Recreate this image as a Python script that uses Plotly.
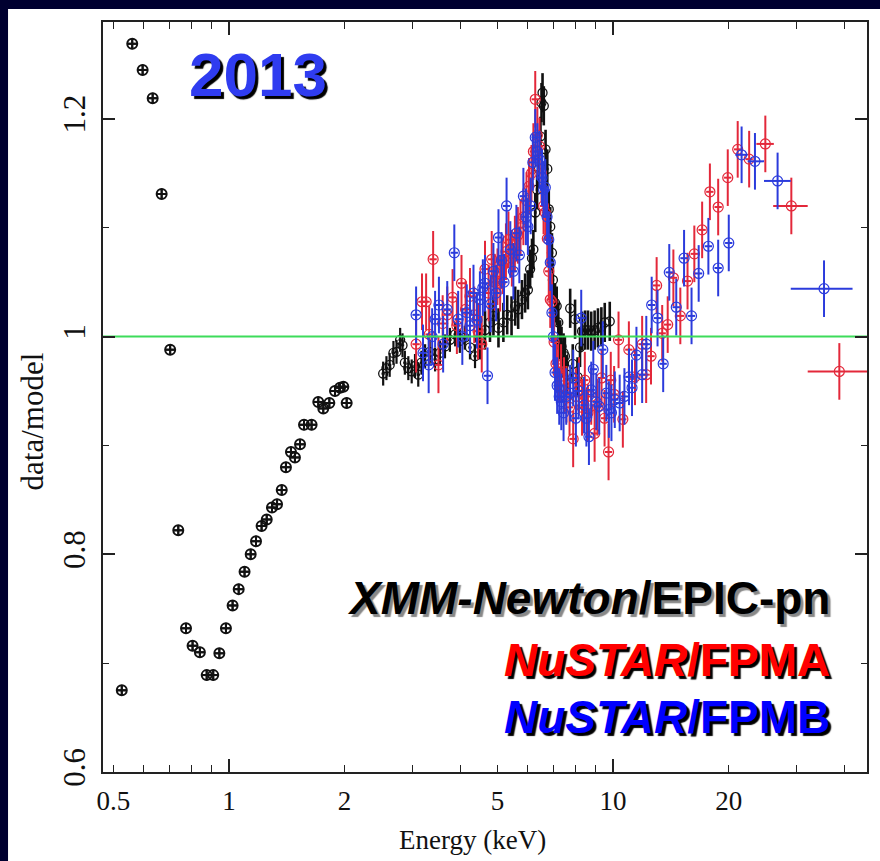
import math
import plotly.graph_objects as go

# ---------------- data ----------------
# XMM-Newton / EPIC-pn, soft band (keV, data/model)
xmm_soft_e = [0.526, 0.560, 0.596, 0.633, 0.668, 0.703, 0.738, 0.773, 0.804, 0.840,
              0.875, 0.910, 0.944, 0.982, 1.022, 1.060, 1.098, 1.139, 1.176, 1.216,
              1.254, 1.294, 1.334, 1.372, 1.407, 1.450, 1.485, 1.531, 1.568, 1.641,
              1.708, 1.760, 1.825, 1.888, 1.946, 1.985, 2.025]
xmm_soft_r = [0.675, 1.269, 1.245, 1.219, 1.131, 0.988, 0.822, 0.732, 0.716, 0.710,
              0.689, 0.689, 0.709, 0.732, 0.753, 0.768, 0.784, 0.800, 0.812, 0.826,
              0.832, 0.843, 0.846, 0.859, 0.880, 0.894, 0.889, 0.901, 0.919, 0.919,
              0.940, 0.934, 0.939, 0.950, 0.953, 0.954, 0.939]
xmm_soft_err = 0.005

# XMM-Newton / EPIC-pn, 2.5-4.5 keV
xmm_mid_e = [2.52, 2.57, 2.62, 2.68, 2.73, 2.79, 2.83, 2.87, 2.93, 2.99, 3.05, 3.11,
             3.17, 3.24, 3.33, 3.44, 3.54, 3.65, 3.76, 3.88, 3.99, 4.11, 4.24, 4.37]
xmm_mid_r = [0.966, 0.971, 0.974, 0.985, 0.986, 0.997, 0.992, 0.976, 0.971, 0.968, 0.973, 0.965,
             0.976, 0.982, 0.986, 0.979, 0.985, 0.991, 0.997, 1.002, 0.996, 0.999, 0.990, 0.982]
xmm_mid_err = 0.011

# XMM-Newton / EPIC-pn, 4.5-10 keV
xmm_hard_e = [4.50, 4.64, 4.78, 4.88, 5.03, 5.18, 5.30, 5.44, 5.56, 5.66, 5.79, 5.90,
              6.00, 6.08, 6.15, 6.20, 6.27, 6.34, 6.41, 6.47, 6.51, 6.55, 6.60, 6.67,
              6.74, 6.80, 6.86, 6.93, 6.97, 7.06, 7.13, 7.20, 7.28, 7.34, 7.43, 7.49,
              7.58, 7.73, 7.85, 7.96, 8.08, 8.20, 8.30, 8.45, 8.60, 8.77, 8.95, 9.13,
              9.32, 9.51, 9.80]
xmm_hard_r = [0.997, 1.006, 1.013, 1.019, 1.008, 1.013, 1.020, 1.019, 1.028, 1.025, 1.034, 1.040,
              1.043, 1.062, 1.072, 1.080, 1.114, 1.135, 1.154, 1.184, 1.215, 1.224, 1.212, 1.172,
              1.154, 1.117, 1.101, 1.077, 1.052, 1.031, 1.028, 1.013, 0.997, 0.991, 0.985, 0.982,
              0.965, 1.026, 0.975, 1.016, 0.963, 0.990, 1.005, 1.006, 1.006, 1.005, 1.006, 1.008,
              1.009, 1.013, 1.014]
xmm_hard_err = 0.018

# NuSTAR / FPMA
fpma_e = [3.07, 3.18, 3.26, 3.32, 3.40, 3.51, 3.60, 3.70, 3.82, 3.92, 4.03, 4.13,
          4.24, 4.35, 4.45, 4.55, 4.64, 4.74, 4.83, 4.92, 5.00, 5.08, 5.16, 5.26,
          5.34, 5.45, 5.55, 5.65, 5.74, 5.84, 5.95, 6.04, 6.13, 6.20, 6.27, 6.35,
          6.43, 6.51, 6.59, 6.66, 6.74, 6.80, 6.86, 6.93, 7.02, 7.10, 7.19, 7.32,
          7.45, 7.56, 7.70, 7.87, 8.00, 8.15, 8.30, 8.44, 8.60, 8.77, 8.95, 9.10,
          9.33, 9.50, 9.73, 9.86, 10.06, 10.33, 10.60, 10.99, 11.4, 11.9, 12.19, 12.55,
          12.98, 13.42, 13.87, 14.35, 14.96, 15.62, 16.27, 17.05, 17.86, 18.77, 19.88, 21.1,
          22.6]
fpma_r = [0.993, 1.032, 1.032, 1.002, 1.071, 0.974, 1.012, 1.020, 1.036, 1.010, 1.049, 1.025,
          1.037, 1.020, 1.005, 0.993, 1.062, 1.040, 1.071, 1.050, 1.055, 1.049, 1.065, 1.078,
          1.089, 1.072, 1.085, 1.093, 1.100, 1.110, 1.125, 1.138, 1.150, 1.170, 1.218, 1.185,
          1.175, 1.150, 1.120, 1.114, 1.090, 1.060, 1.034, 1.032, 0.995, 0.975, 0.967, 0.967,
          0.955, 0.947, 0.935, 0.906, 0.945, 0.955, 0.935, 0.960, 0.930, 0.945, 0.911, 0.935,
          0.962, 0.925, 0.894, 0.960, 0.947, 0.997, 0.924, 0.988, 0.963, 0.993, 0.965, 0.982,
          1.047, 1.003, 1.011, 1.054, 1.019, 1.051, 1.076, 1.098, 1.133, 1.119, 1.146, 1.172,
          1.163]
# FPMA wide high-energy bins: centre, lower edge, upper edge
fpma_wide_e = [24.9, 29.1, 38.8]
fpma_wide_lo = [23.6, 26.1, 32.1]
fpma_wide_hi = [26.2, 32.1, 47.0]
fpma_wide_r = [1.177, 1.120, 0.968]

# NuSTAR / FPMB
fpmb_e = [3.07, 3.20, 3.31, 3.38, 3.44, 3.52, 3.61, 3.70, 3.86, 3.95, 4.05, 4.16,
          4.24, 4.33, 4.42, 4.50, 4.58, 4.64, 4.71, 4.80, 4.88, 4.96, 5.03, 5.12,
          5.20, 5.28, 5.40, 5.50, 5.60, 5.70, 5.84, 5.93, 6.00, 6.10, 6.18, 6.27,
          6.35, 6.43, 6.53, 6.59, 6.66, 6.73, 6.80, 6.86, 6.93, 6.99, 7.06, 7.15,
          7.24, 7.33, 7.43, 7.55, 7.73, 7.87, 8.00, 8.13, 8.26, 8.40, 8.52, 8.65,
          8.77, 8.88, 9.04, 9.20, 9.40, 9.60, 9.75, 9.90, 10.1, 10.4, 10.7, 11.0,
          11.2, 11.5, 11.9, 12.2, 12.6, 13.05, 13.5, 14.0, 14.6, 15.3, 16.0, 16.7,
          17.7, 18.77, 20.0]
fpmb_r = [1.020, 0.985, 0.974, 1.000, 1.016, 1.029, 0.993, 1.025, 1.077, 1.016, 1.000, 1.022,
          1.010, 1.040, 1.015, 1.034, 1.045, 1.049, 0.964, 1.030, 1.060, 1.040, 1.091, 1.070,
          1.050, 1.120, 1.080, 1.060, 1.095, 1.075, 1.129, 1.110, 1.101, 1.120, 1.160, 1.183,
          1.170, 1.163, 1.146, 1.135, 1.137, 1.110, 1.089, 1.068, 1.022, 1.000, 0.967, 0.955,
          0.945, 0.940, 0.930, 0.945, 0.948, 0.962, 0.925, 0.950, 1.017, 0.937, 0.925, 0.908,
          0.951, 0.970, 0.940, 0.936, 0.988, 0.948, 0.933, 0.930, 0.942, 0.939, 0.945, 0.963,
          0.953, 0.983, 0.965, 0.993, 1.029, 1.017, 0.975, 1.059, 1.027, 1.072, 1.019, 1.058,
          1.083, 1.063, 1.086]
fpmb_wide_e = [21.6, 23.4, 26.8, 35.4]
fpmb_wide_lo = [20.8, 22.4, 24.7, 29.0]
fpmb_wide_hi = [22.4, 24.7, 29.0, 42.0]
fpmb_wide_r = [1.167, 1.161, 1.143, 1.044]

nustar_err = 0.026

model_level = 1.0
x_range = [0.47, 45.8]
y_range = [0.6, 1.289]
x_major = [1, 10]
x_minor = [0.5, 0.6, 0.7, 0.8, 0.9, 2, 3, 4, 5, 6, 7, 8, 9, 20, 30, 40]
x_labels = [0.5, 1, 2, 5, 10, 20]
x_label_text = ["0.5", "1", "2", "5", "10", "20"]

RED = "#e3283a"
BLUE = "#2b3bdc"
BLACK = "#111111"

# ---------------- figure ----------------
fig = go.Figure()


def add_points(x, y, yerr, color, xpct, size, lw, ebw, symbol="circle-open"):
    fig.add_trace(go.Scatter(
        x=x, y=y, mode="markers", showlegend=False,
        marker=dict(symbol=symbol, size=size, color=color,
                    line=dict(color=color, width=lw)),
        error_y=dict(type="constant", value=yerr, color=color, thickness=ebw, width=0),
        error_x=dict(type="percent", value=xpct, color=color, thickness=ebw, width=0),
    ))


def add_wide(x, lo, hi, y, yerr, color, size, lw, ebw):
    fig.add_trace(go.Scatter(
        x=x, y=y, mode="markers", showlegend=False,
        marker=dict(symbol="circle-open", size=size, color=color,
                    line=dict(color=color, width=lw)),
        error_y=dict(type="constant", value=yerr, color=color, thickness=ebw, width=0),
        error_x=dict(type="data", symmetric=False,
                     array=[h - c for h, c in zip(hi, x)],
                     arrayminus=[c - l for c, l in zip(x, lo)],
                     color=color, thickness=ebw, width=0),
    ))


# model reference line (data/model = 1), drawn on the label axis x2
fig.add_trace(go.Scatter(x=x_range, y=[model_level, model_level], mode="lines",
                         xaxis="x2", yaxis="y", showlegend=False, hoverinfo="skip",
                         line=dict(color="#3ddc5a", width=2)))

# XMM (black)
add_points(xmm_soft_e, xmm_soft_r, xmm_soft_err, BLACK, 2.6, 10, 2, 2, "circle-cross-open")
add_points(xmm_mid_e, xmm_mid_r, xmm_mid_err, BLACK, 1.0, 9, 1.3, 2.2)
add_points(xmm_hard_e, xmm_hard_r, xmm_hard_err, BLACK, 0.8, 9, 1.3, 2.6)
# NuSTAR FPMA (red) and FPMB (blue)
add_points(fpma_e, fpma_r, nustar_err, RED, 2.2, 10, 1.2, 2)
add_wide(fpma_wide_e, fpma_wide_lo, fpma_wide_hi, fpma_wide_r, nustar_err, RED, 10, 1.2, 2)
add_points(fpmb_e, fpmb_r, nustar_err, BLUE, 2.2, 10, 1.2, 2)
add_wide(fpmb_wide_e, fpmb_wide_lo, fpmb_wide_hi, fpmb_wide_r, nustar_err, BLUE, 10, 1.2, 2)

# white slide panel on navy background
fig.add_shape(type="rect", xref="paper", yref="paper", x0=-0.1243, x1=1.05,
              y0=-0.2, y1=1.0173, fillcolor="white", line_width=0, layer="below")

tick_font = dict(family="Liberation Serif, Times New Roman, serif", size=27, color="#111")
ytick_font = dict(family="Liberation Serif, Times New Roman, serif", size=31, color="#111")

log_range = [math.log10(v) for v in x_range]

fig.update_layout(
    width=880, height=861, autosize=False,
    margin=dict(l=103, r=13, t=22, b=89),
    paper_bgcolor="#000030",
    plot_bgcolor="white",
    xaxis=dict(
        type="log", range=log_range,
        tickvals=x_major, ticks="inside", ticklen=13, tickwidth=1.5, tickcolor="#222",
        showticklabels=False, showgrid=False, zeroline=False,
        showline=True, linecolor="#222", linewidth=1.5, mirror="ticks",
        minor=dict(tickvals=x_minor, ticks="inside", ticklen=7, tickwidth=1.2,
                   tickcolor="#222", showgrid=False),
    ),
    xaxis2=dict(
        type="log", range=log_range,
        overlaying="x", anchor="y", side="bottom",
        tickvals=x_labels, ticktext=x_label_text, ticks="", showline=False,
        showgrid=False, zeroline=False, tickfont=tick_font, ticklabelstandoff=10,
    ),
    yaxis=dict(
        range=y_range, tick0=0.6, dtick=0.2, ticks="inside", ticklen=12, tickwidth=1.5,
        tickcolor="#222", tickfont=ytick_font, tickangle=-90, showgrid=False,
        zeroline=False, showline=True, linecolor="#222", linewidth=1.5, mirror="ticks",
        ticklabelstandoff=4,
        minor=dict(dtick=0.1, ticks="inside", ticklen=6, tickwidth=1.2,
                   tickcolor="#222", showgrid=False),
    ),
)

# axis titles
fig.add_annotation(text="Energy (keV)", xref="paper", yref="paper",
                   x=0.484, y=-0.0907, xanchor="center", yanchor="middle",
                   showarrow=False,
                   font=dict(family="Liberation Serif, Times New Roman, serif", size=27,
                             color="#111"))
fig.add_annotation(text="data/model", xref="paper", yref="paper",
                   x=-0.092, y=0.467, xanchor="center", yanchor="middle",
                   textangle=-90, showarrow=False,
                   font=dict(family="Liberation Serif, Times New Roman, serif", size=31,
                             color="#111"))

# year label
fig.add_annotation(text="<b>2013</b>", xref="paper", yref="paper",
                   x=0.203, y=0.93, xanchor="center", yanchor="middle", showarrow=False,
                   font=dict(family="Liberation Sans, Arial, sans-serif", size=62,
                             color="#2f3cf0", shadow="3px 3px 1px #000"))

# instrument legend text
legend_font = "Liberation Sans, Arial, sans-serif"
fig.add_annotation(text="<b><i>XMM-Newton</i>/EPIC-pn</b>", xref="paper", yref="paper",
                   x=0.954, y=0.232, xanchor="right", yanchor="middle", showarrow=False,
                   font=dict(family=legend_font, size=46, color="#000",
                             shadow="3px 3px 1px #888"))
fig.add_annotation(text="<b><i>NuSTAR</i>/FPMA</b>", xref="paper", yref="paper",
                   x=0.954, y=0.1493, xanchor="right", yanchor="middle", showarrow=False,
                   font=dict(family=legend_font, size=46, color="#ff0000",
                             shadow="3px 3px 1px #000"))
fig.add_annotation(text="<b><i>NuSTAR</i>/FPMB</b>", xref="paper", yref="paper",
                   x=0.954, y=0.0733, xanchor="right", yanchor="middle", showarrow=False,
                   font=dict(family=legend_font, size=46, color="#0000ff",
                             shadow="3px 3px 1px #000"))

fig.write_html("out.html")
